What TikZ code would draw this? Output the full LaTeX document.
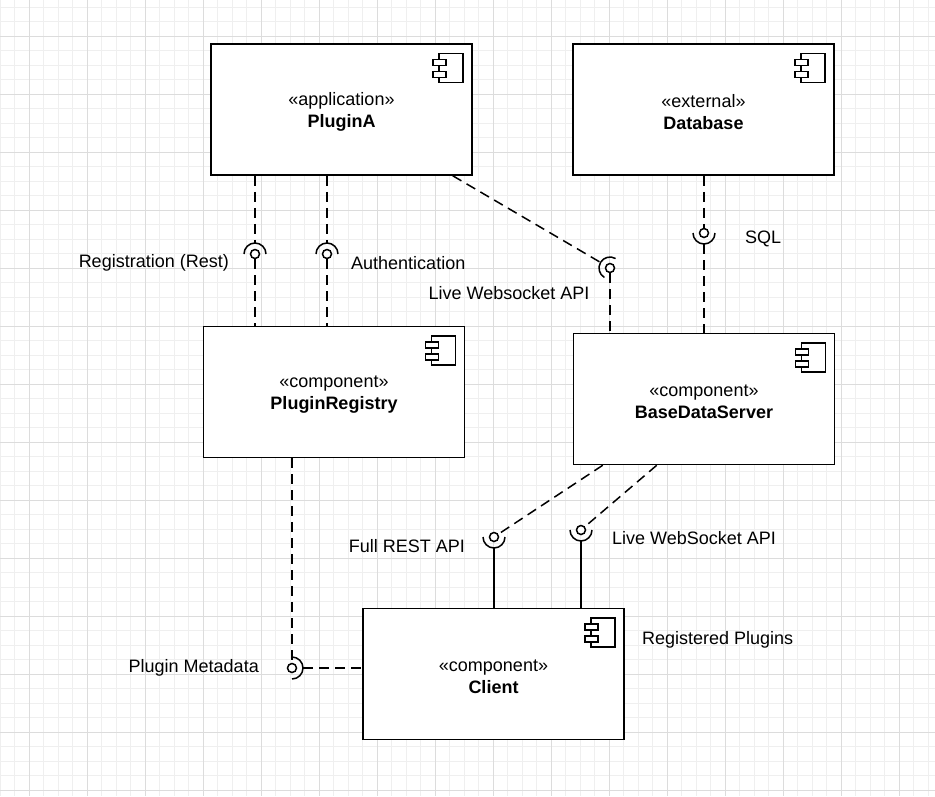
\documentclass[tikz,border=0pt]{standalone}
\usepackage{fontspec}
\setmainfont{Liberation Sans}
\usetikzlibrary{calc}
\definecolor{gridminor}{HTML}{EFEFEF}
\definecolor{gridmajor}{HTML}{DCDCDC}
\tikzset{
  pics/compicon/.style={code={
    \draw[line width=1.5pt] (-34,10) rectangle (-10,39);
    \draw[line width=1.5pt,fill=white] (-40,16) rectangle (-27,22);
    \draw[line width=1.5pt,fill=white] (-40,28) rectangle (-27,34);
  }}
}
\begin{document}
\begin{tikzpicture}[x=1pt,y=-1pt,
  every node/.style={font=\fontsize{18}{22}\selectfont},
  comp/.style={draw, line width=1.5pt, fill=white, minimum width=261pt, minimum height=131pt, inner sep=0pt},
  ctext/.style={align=center, inner sep=0pt},
  dep/.style={line width=1.5pt, dash pattern=on 10pt off 6pt},
  solidline/.style={line width=1.5pt},
  ball/.style={circle, draw, line width=1.5pt, minimum size=9pt, inner sep=0pt, fill=white},
  sock/.style={line width=1.5pt},
  lbl/.style={inner sep=0pt},
  gminor/.style={draw=gridminor, line width=1pt},
  gmajor/.style={draw=gridmajor, line width=1pt}
]
\useasboundingbox (0,0) rectangle (935,796);
\fill[white] (0,0) rectangle (935,796);
% grid
\foreach \i in {0,...,64} {\draw[gminor] (14.5*\i,0) -- (14.5*\i,796);}
\foreach \j in {0,...,54} {\draw[gminor] (0,7+14.5*\j) -- (935,7+14.5*\j);}
\foreach \i in {0,...,15} {\draw[gmajor] (29+58*\i,0) -- (29+58*\i,796);}
\foreach \j in {0,...,13} {\draw[gmajor] (0,36+58*\j) -- (935,36+58*\j);}

% components
\node[comp] (pa) at (341.5,109.5) {};
\node[comp] (db) at (703.5,109.5) {};
\node[comp] (reg) at (334,392) {};
\node[comp] (bds) at (704,399) {};
\node[comp] (cl) at (493.5,674) {};
\node[ctext] (paT) at ([yshift=-2.5pt]pa.center) {«application»\\\textbf{PluginA}};
\node[ctext] (dbT) at ([yshift=-2.5pt]db.center) {«external»\\\textbf{Database}};
\node[ctext] (regT) at ([yshift=-2.5pt]reg.center) {«component»\\\textbf{PluginRegistry}};
\node[ctext] (bdsT) at ([yshift=-2.5pt]bds.center) {«component»\\\textbf{BaseDataServer}};
\node[ctext] (clT) at ([yshift=-2.5pt]cl.center) {«component»\\\textbf{Client}};
\pic at (pa.north east) {compicon};
\pic at (db.north east) {compicon};
\pic at (reg.north east) {compicon};
\pic at (bds.north east) {compicon};
\pic at (cl.north east) {compicon};

% interface balls
\node[ball] (b1) at (255,254) {};
\node[ball] (b2) at (327,254) {};
\node[ball] (b3) at (610,268) {};
\node[ball] (b4) at (704,233) {};
\node[ball] (b5) at (494,537) {};
\node[ball] (b6) at (581,530) {};
\node[ball] (b7) at (292,668) {};

% Registration (Rest)
\draw[dep] (pa.south -| b1) -- ([yshift=11pt]b1.center);
\draw[sock] ([shift={(0:11pt)}]b1.center) arc[start angle=0,end angle=180,radius=11pt];
\draw[dep] (b1) -- (reg.north -| b1);
% Authentication
\draw[dep] (pa.south -| b2) -- ([yshift=11pt]b2.center);
\draw[sock] ([shift={(0:11pt)}]b2.center) arc[start angle=0,end angle=180,radius=11pt];
\draw[dep] (b2) -- (reg.north -| b2);
% Live Websocket API (top)
\coordinate (pa3) at ($(pa.south east)+(-20,0)$);
\draw[dep] (pa3) -- ([shift={(149.5:11pt)}]b3.center);
\draw[sock] ([shift={(59.5:11pt)}]b3.center) arc[start angle=59.5,end angle=239.5,radius=11pt];
\draw[dep] (b3) -- (bds.north -| b3);
% SQL
\draw[dep] (db.south -| b4) -- (b4);
\draw[sock] ([shift={(180:11pt)}]b4.center) arc[start angle=180,end angle=360,radius=11pt];
\draw[dep] ([yshift=-11pt]b4.center) -- (bds.north -| b4);
% Full REST API
\coordinate (bd1) at ($(bds.south west)+(30,0)$);
\draw[dep] (bd1) -- (b5);
\draw[sock] ([shift={(180:11pt)}]b5.center) arc[start angle=180,end angle=360,radius=11pt];
\draw[solidline] ([yshift=-11pt]b5.center) -- (cl.north -| b5);
% Live WebSocket API (bottom)
\coordinate (bd2) at ($(bds.south west)+(84,0)$);
\draw[dep] (bd2) -- (b6);
\draw[sock] ([shift={(180:11pt)}]b6.center) arc[start angle=180,end angle=360,radius=11pt];
\draw[solidline] ([yshift=-11pt]b6.center) -- (cl.north -| b6);
% Plugin Metadata
\draw[dep] (reg.south -| b7) -- (b7);
\draw[sock] ([shift={(-90:11pt)}]b7.center) arc[start angle=-90,end angle=90,radius=11pt];
\draw[dep] ([xshift=11pt]b7.center) -- (cl.west |- b7);

% labels
\node[lbl, anchor=east] (l1) at (229,263) {Registration (Rest)};
\node[lbl, anchor=west] (l2) at (351,263) {Authentication};
\node[lbl] (l3) at (509,293) {Live Websocket API};
\node[lbl, anchor=west] (l4) at (745,239) {SQL};
\node[lbl] (l5) at (407,546) {Full REST API};
\node[lbl, anchor=west] (l6) at (612,538) {Live WebSocket API};
\node[lbl, anchor=east] (l7) at (259,668) {Plugin Metadata};
\node[lbl, anchor=west] (l8) at (642,640) {Registered Plugins};
\end{tikzpicture}
\end{document}
